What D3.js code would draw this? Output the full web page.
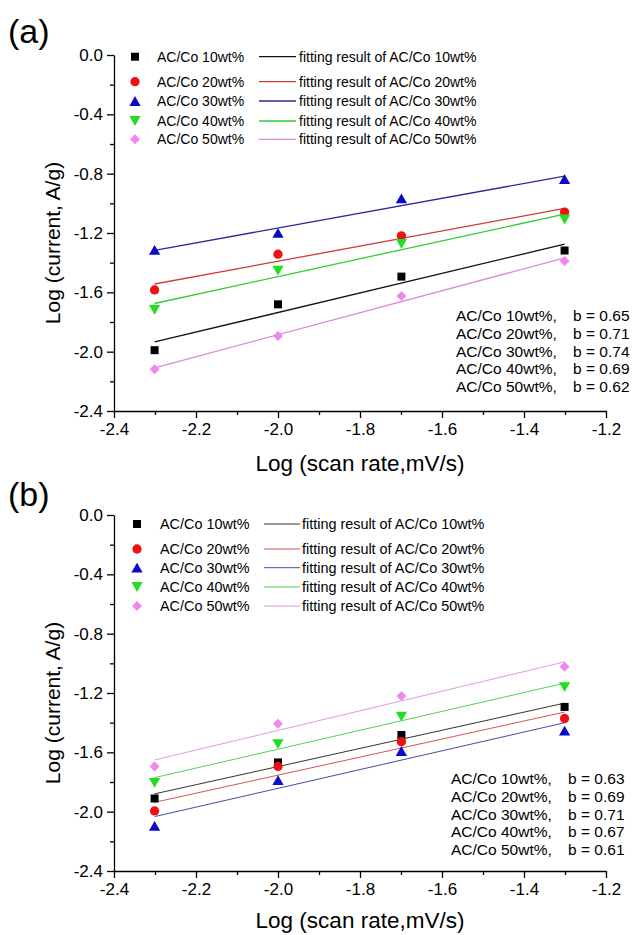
<!DOCTYPE html>
<html>
<head>
<meta charset="utf-8">
<script src="https://cdn.jsdelivr.net/npm/d3@7"></script>
<style>
  body { margin: 0; background: #fff; }
  svg { display: block; }
  text { font-family: "Liberation Sans", Arial, Helvetica, sans-serif; fill: #000; }
</style>
</head>
<body>
<svg id="chart" width="638" height="935"></svg>
<script>
// log10 of scan rate (5, 10, 20, 50 mV/s)
const logScanRate = [-2.301, -2.0, -1.699, -1.301];
const seriesLabels = ['AC/Co 10wt%', 'AC/Co 20wt%', 'AC/Co 30wt%', 'AC/Co 40wt%', 'AC/Co 50wt%'];

// panel (a): log current
const a10 = [-1.990, -1.681, -1.494, -1.318];
const a20 = [-1.584, -1.343, -1.219, -1.059];
const a30 = [-1.314, -1.199, -0.967, -0.836];
const a40 = [-1.719, -1.454, -1.273, -1.109];
const a50 = [-2.118, -1.895, -1.625, -1.388];
const bSlopeA = ['0.65', '0.71', '0.74', '0.69', '0.62'];

// panel (b): log current
const b10 = [-1.911, -1.668, -1.483, -1.294];
const b20 = [-1.995, -1.695, -1.528, -1.372];
const b30 = [-2.096, -1.788, -1.591, -1.454];
const b40 = [-1.806, -1.544, -1.359, -1.161];
const b50 = [-1.695, -1.408, -1.221, -1.023];
const bSlopeB = ['0.63', '0.69', '0.71', '0.67', '0.61'];

const xTickValues = [-2.4, -2.2, -2.0, -1.8, -1.6, -1.4, -1.2];
const xMinorValues = [-2.3, -2.1, -1.9, -1.7, -1.5, -1.3];
const yTickValues = [0.0, -0.4, -0.8, -1.2, -1.6, -2.0, -2.4];
const yMinorValues = [-0.2, -0.6, -1.0, -1.4, -1.8, -2.2];

const markerColors = ['#000000', '#ee1111', '#0a0ac8', '#22dd22', '#ee88ee'];
const fitColors = ['#111111', '#cc3a3a', '#2a2a99', '#33cc33', '#dd88dd'];
const symbolTypes = [d3.symbolSquare, d3.symbolCircle, d3.symbolTriangle, d3.symbolTriangle, d3.symbolSquare];
const symbolRotate = [0, 0, 0, 180, 45];
const symbolSizes = [64, 68, 55, 55, 50];

const svg = d3.select('#chart');

// least-squares line through (x, y)
function linearFit(xs, ys) {
  const mx = d3.mean(xs), my = d3.mean(ys);
  let sxy = 0, sxx = 0;
  xs.forEach((xv, i) => { sxy += (xv - mx) * (ys[i] - my); sxx += (xv - mx) * (xv - mx); });
  const slope = sxy / sxx;
  return xv => my + slope * (xv - mx);
}

function markerPath(i) {
  return d3.symbol().type(symbolTypes[i]).size(symbolSizes[i])();
}
function markerTransform(i, px, py) {
  // centre triangles on their bounding box
  let shift = 0;
  if (symbolTypes[i] === d3.symbolTriangle) {
    shift = Math.sqrt(symbolSizes[i] / (Math.sqrt(3) * 3)) / 2;
    if (symbolRotate[i] === 180) shift = -shift;
  }
  return `translate(${px},${py + shift}) rotate(${symbolRotate[i]})`;
}

function drawPanel(cfg) {
  const g = svg.append('g').attr('transform', `translate(0,${cfg.dy})`);
  const x = d3.scaleLinear().domain([-2.4, -1.2]).range([114, 606]);
  const y = d3.scaleLinear().domain([-2.4, 0]).range([411, 55]);
  const fmt = d => d.toFixed(1);

  // panel tag
  g.append('text').attr('x', 8).attr('y', cfg.tagY).style('font-size', '34px').text(cfg.tag);

  // axes
  const xAxis = g.append('g').attr('transform', 'translate(0,411)')
    .call(d3.axisBottom(x).tickValues(xTickValues).tickFormat(fmt).tickSizeInner(7).tickSizeOuter(0).tickPadding(5));
  g.append('g').attr('transform', 'translate(0,411)')
    .call(d3.axisBottom(x).tickValues(xMinorValues).tickFormat('').tickSizeInner(4).tickSizeOuter(0))
    .call(s => s.select('.domain').remove());
  const yAxis = g.append('g').attr('transform', 'translate(114,0)')
    .call(d3.axisLeft(y).tickValues(yTickValues).tickFormat(fmt).tickSizeInner(7).tickSizeOuter(0).tickPadding(4));
  g.append('g').attr('transform', 'translate(114,0)')
    .call(d3.axisLeft(y).tickValues(yMinorValues).tickFormat('').tickSizeInner(4).tickSizeOuter(0))
    .call(s => s.select('.domain').remove());
  g.selectAll('.domain, .tick line').attr('stroke', '#000').attr('stroke-width', 1.3);
  [xAxis, yAxis].forEach(a => a.selectAll('.tick text')
    .style('font-size', '17px').style('font-family', '"Liberation Sans", Arial, sans-serif').attr('fill', '#000'));

  // axis titles
  g.append('text').attr('x', 360).attr('y', cfg.xTitleY).attr('text-anchor', 'middle')
    .style('font-size', '22.5px').text('Log (scan rate,mV/s)');
  g.append('text').attr('transform', 'translate(60,243) rotate(-90)').attr('text-anchor', 'middle')
    .style('font-size', '21px').text('Log (current, A/g)');

  // fitted lines
  cfg.series.forEach((vals, i) => {
    const f = linearFit(logScanRate, vals);
    const x0 = logScanRate[0], x1 = logScanRate[logScanRate.length - 1];
    g.append('line')
      .attr('x1', x(x0)).attr('y1', y(f(x0)))
      .attr('x2', x(x1)).attr('y2', y(f(x1)))
      .attr('stroke', fitColors[i]).attr('stroke-width', cfg.fitWidth).attr('opacity', cfg.fitOpacity);
  });

  // data markers
  cfg.series.forEach((vals, i) => {
    g.append('g').selectAll('path').data(vals).join('path')
      .attr('d', markerPath(i))
      .attr('transform', (v, k) => markerTransform(i, x(logScanRate[k]), y(v)))
      .attr('fill', markerColors[i]);
  });

  // legend
  const lg = cfg.legend;
  seriesLabels.forEach((name, i) => {
    const ry = y(0) + lg.rows[i];
    g.append('path').attr('d', markerPath(i)).attr('transform', markerTransform(i, lg.markerX, ry)).attr('fill', markerColors[i]);
    g.append('text').attr('x', lg.textX).attr('y', ry + 5).style('font-size', lg.font + 'px').text(name);
    g.append('line').attr('x1', lg.lineX0).attr('x2', lg.lineX1).attr('y1', ry).attr('y2', ry)
      .attr('stroke', fitColors[i]).attr('stroke-width', cfg.fitWidth).attr('opacity', cfg.fitOpacity);
    g.append('text').attr('x', lg.fitTextX).attr('y', ry + 5).style('font-size', lg.font + 'px')
      .text('fitting result of ' + name);
  });

  // b values
  seriesLabels.forEach((name, i) => {
    const t = g.append('text').attr('y', cfg.noteY + i * 17.8).style('font-size', '15.5px');
    t.append('tspan').attr('x', cfg.noteX).text(name + ',');
    t.append('tspan').attr('x', cfg.noteX + 117).text('b');
    t.append('tspan').attr('x', cfg.noteX + 130).text('= ' + cfg.slopes[i]);
  });
}

drawPanel({
  dy: 0, tag: '(a)', tagY: 43, xTitleY: 471,
  series: [a10, a20, a30, a40, a50], slopes: bSlopeA,
  fitWidth: 1.3, fitOpacity: 1,
  legend: { rows: [1.7, 26.7, 46, 66, 84.3], markerX: 135, textX: 157, lineX0: 259, lineX1: 296, fitTextX: 299, font: 14 },
  noteX: 456, noteY: 321
});

drawPanel({
  dy: 460, tag: '(b)', tagY: 46, xTitleY: 468,
  series: [b10, b20, b30, b40, b50], slopes: bSlopeB,
  fitWidth: 1, fitOpacity: 0.85,
  legend: { rows: [9, 34, 52.7, 72, 91], markerX: 137, textX: 160, lineX0: 264, lineX1: 300, fitTextX: 302, font: 14.4 },
  noteX: 451, noteY: 324
});
</script>
</body>
</html>
